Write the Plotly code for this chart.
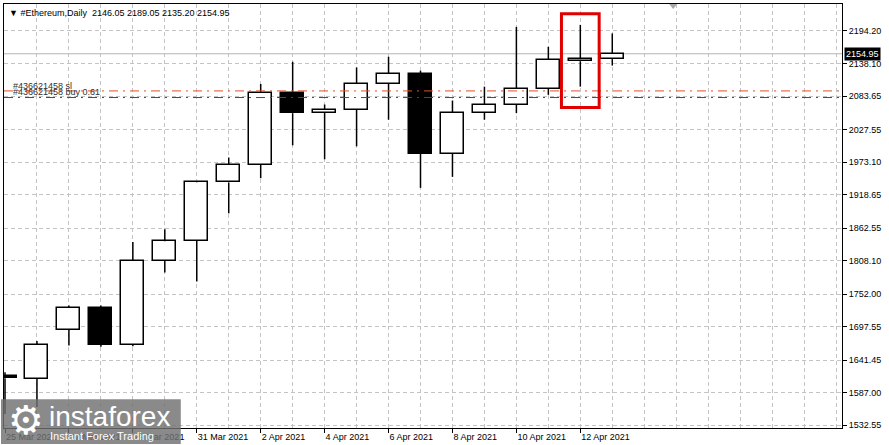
import plotly.graph_objects as go
import pandas as pd

# ---------------- data ----------------
dates = pd.date_range("2021-03-25", periods=20, freq="D")
opens  = [1614.2, 1610.5, 1692.3, 1729.0, 1666.6, 1807.4, 1840.9, 1939.2, 1969.3, 2089.4,
          2055.6, 2061.0, 2104.4, 2121.1, 1987.6, 2056.0, 2069.4, 2096.1, 2142.5, 2146.05]
highs  = [1621.0, 1673.3, 1732.8, 1732.8, 1839.6, 1860.8, 1939.5, 1981.0, 2104.4, 2141.6,
          2069.9, 2132.1, 2150.0, 2126.6, 2076.6, 2099.9, 2200.0, 2166.7, 2203.4, 2189.05]
lows   = [1551.0, 1562.6, 1666.1, 1663.9, 1664.6, 1788.4, 1773.4, 1887.5, 1946.4, 2001.5,
          1978.1, 1999.8, 2044.4, 1930.2, 1948.6, 2044.4, 2055.4, 2086.1, 2099.9, 2135.20]
closes = [1610.9, 1667.3, 1729.0, 1666.6, 1807.4, 1840.8, 1939.2, 1969.3, 2089.4, 2055.4,
          2061.0, 2104.4, 2121.1, 1987.6, 2056.0, 2069.4, 2096.1, 2144.5, 2146.05, 2154.95]

ytick_vals = [2194.20, 2138.10, 2083.65, 2027.55, 1973.10, 1918.65, 1862.55,
              1808.10, 1752.00, 1697.55, 1641.45, 1587.00, 1532.55]
xtick_dates = list(dates[0:19:2])

symbol = "#Ethereum,Daily"
order_id = "#436621458"
sl_level = 2092.7
entry_level = 2081.6
highlight_date = pd.Timestamp("2021-04-12")
highlight_low, highlight_high = 2064.9, 2222.2

# ---------------- geometry helpers ----------------
W, H = 889, 445
L, R, T, B = 3, 842, 3, 429      # plot area in pixels
DAY = 86400000
PXDAY = 32.0

def px2x(px):
    return (px - L) / (R - L)

def py2y(py):
    return (B - py) / (B - T)

x_left = dates[0] - pd.Timedelta(days=(4 - L) / PXDAY)
x_right = dates[0] + pd.Timedelta(days=(R - 4) / PXDAY)
y_range = [1527.6, 2238.4]

# ---------------- traces ----------------
fig = go.Figure()

base = [min(o, c) for o, c in zip(opens, closes)]
height = [abs(c - o) for o, c in zip(opens, closes)]
body_col = ["white" if c >= o else "black" for o, c in zip(opens, closes)]

wx, wy = [], []
for d, o, h, l, c in zip(dates, opens, highs, lows, closes):
    top, bot = max(o, c), min(o, c)
    wx += [d, d, None, d, d, None]
    wy += [h, top, None, bot, l, None]

fig.add_trace(go.Scatter(x=wx, y=wy, mode="lines",
                         line=dict(color="black", width=1.5),
                         hoverinfo="skip", showlegend=False))
fig.add_trace(go.Bar(x=dates, y=height, base=base, width=0.72 * DAY,
                     marker=dict(color=body_col, line=dict(color="black", width=1.5)),
                     hoverinfo="skip", showlegend=False))

grid = "#c4c4c4"
gdash = "4px,3px"

fig.update_layout(
    width=W, height=H,
    margin=dict(l=L, r=W - R, t=T, b=H - B),
    plot_bgcolor="white", paper_bgcolor="white",
    showlegend=False, bargap=0,
    font=dict(family="Liberation Sans", size=9, color="black"),
    xaxis=dict(
        type="date", range=[x_left, x_right],
        tickmode="array", tickvals=xtick_dates, tickformat="%-d %b %Y",
        ticks="outside", ticklen=4, tickcolor="black",
        ticklabelposition="outside right",
        showgrid=True, gridcolor=grid, griddash=gdash, gridwidth=1,
        minor=dict(tickmode="linear", tick0=dates[0], dtick=DAY,
                   showgrid=True, gridcolor=grid, griddash=gdash, gridwidth=1, ticks=""),
        showline=True, linecolor="black", linewidth=1, mirror=True,
        zeroline=False, fixedrange=True,
    ),
    yaxis=dict(
        side="right", range=y_range,
        tickmode="array", tickvals=ytick_vals,
        ticktext=[f"{v:.2f}" for v in ytick_vals],
        ticks="outside", ticklen=4, tickcolor="black",
        showgrid=True, gridcolor=grid, griddash=gdash, gridwidth=1,
        showline=True, linecolor="black", linewidth=1, mirror=True,
        zeroline=False, fixedrange=True,
    ),
)

shapes = []
# bid line
shapes.append(dict(type="line", xref="paper", yref="y", x0=0, x1=1,
                   y0=closes[-1], y1=closes[-1],
                   line=dict(color="#b4b4b4", width=1), layer="below"))
# order lines
shapes.append(dict(type="line", xref="paper", yref="y", x0=0, x1=1,
                   y0=sl_level, y1=sl_level,
                   line=dict(color="#e0502a", width=1, dash="9px,5px,2px,5px")))
shapes.append(dict(type="line", xref="paper", yref="y", x0=0, x1=1,
                   y0=entry_level, y1=entry_level,
                   line=dict(color="#008000", width=1, dash="9px,5px,2px,5px")))
# highlight box
shapes.append(dict(type="rect", xref="x", yref="y",
                   x0=highlight_date - pd.Timedelta(days=0.59),
                   x1=highlight_date + pd.Timedelta(days=0.59),
                   y0=highlight_low, y1=highlight_high,
                   line=dict(color="#e00000", width=3), fillcolor="rgba(0,0,0,0)"))
# shift marker triangle
shapes.append(dict(type="path", xref="paper", yref="paper",
                   path=f"M {px2x(669)},{py2y(3)} L {px2x(677)},{py2y(3)} L {px2x(673)},{py2y(8)} Z",
                   fillcolor="#a8a8a8", line=dict(width=0)))
# logo panel
shapes.append(dict(type="rect", xref="paper", yref="paper",
                   x0=px2x(0), x1=px2x(180), y0=py2y(445), y1=py2y(400),
                   fillcolor="rgba(112,112,112,0.82)", line=dict(width=0), layer="above"))
fig.update_layout(shapes=shapes)

ann = []
ann.append(dict(xref="paper", yref="paper", x=px2x(6), y=py2y(5),
                xanchor="left", yanchor="top", showarrow=False,
                text="▼\u00a0" + symbol + "\u00a0\u00a0" +
                     f"{opens[-1]:.2f} {highs[-1]:.2f} {lows[-1]:.2f} {closes[-1]:.2f}",
                font=dict(size=9, color="black")))
ann.append(dict(xref="paper", yref="y", x=px2x(10), y=sl_level,
                xanchor="left", yanchor="bottom", showarrow=False, yshift=-2,
                text=order_id + " sl", font=dict(size=9, color="#303030")))
ann.append(dict(xref="paper", yref="y", x=px2x(10), y=entry_level,
                xanchor="left", yanchor="bottom", showarrow=False, yshift=-1,
                text=order_id + " buy 0.61", font=dict(size=9, color="#303030")))
ann.append(dict(xref="paper", yref="y", x=1, y=closes[-1],
                xanchor="left", yanchor="middle", showarrow=False, xshift=2,
                text=f"{closes[-1]:.2f}", bgcolor="black", borderpad=1,
                font=dict(size=9, color="white")))
# logo texts
ann.append(dict(xref="paper", yref="paper", x=px2x(25), y=py2y(421),
                xanchor="center", yanchor="middle", showarrow=False,
                text="⚙", font=dict(family="DejaVu Sans", size=40, color="white")))
ann.append(dict(xref="paper", yref="paper", x=px2x(46), y=py2y(417),
                xanchor="left", yanchor="middle", showarrow=False,
                text="instaforex", font=dict(family="Liberation Sans", size=28, color="white")))
ann.append(dict(xref="paper", yref="paper", x=px2x(47), y=py2y(437),
                xanchor="left", yanchor="middle", showarrow=False,
                text="Instant Forex Trading", font=dict(family="Liberation Sans", size=11, color="white")))
fig.update_layout(annotations=ann)

fig.write_html("out.html", config={"displayModeBar": False},
               post_script="document.body.style.margin='0px';")
